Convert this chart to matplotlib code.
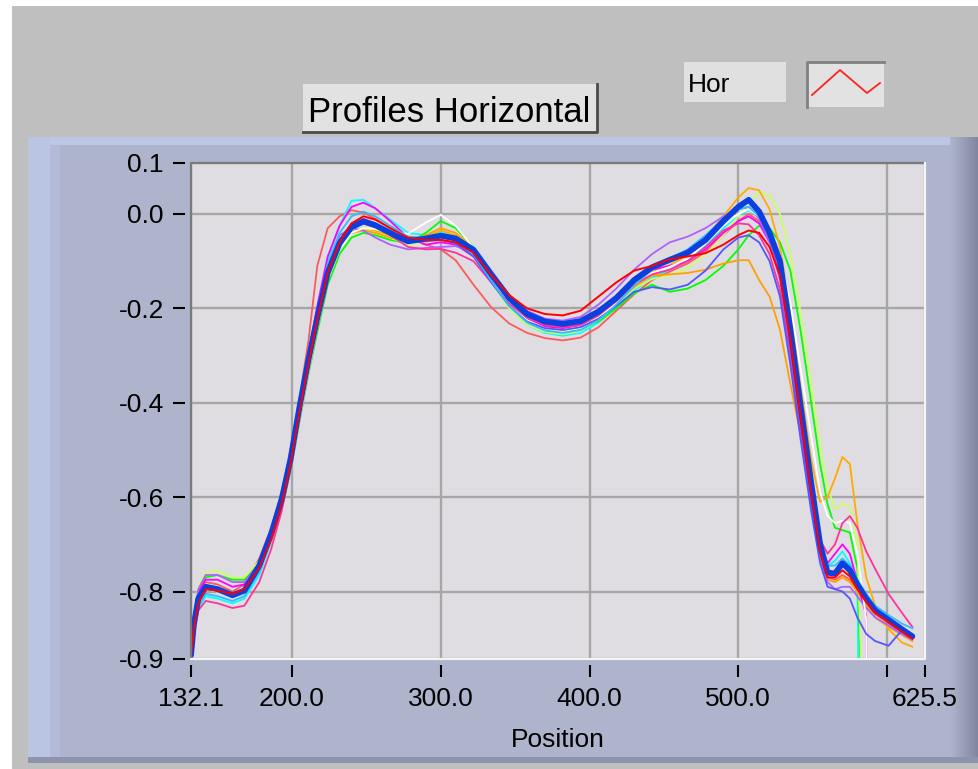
import numpy as np
import matplotlib
matplotlib.use("Agg")
import matplotlib.pyplot as plt
from matplotlib.patches import Rectangle
from matplotlib.lines import Line2D

nan = float("nan")

position = [132.1, 134, 137, 142, 150, 160, 168, 178, 186, 193, 199, 205, 211, 217, 224,
            232, 240, 248, 256, 266, 278, 290, 300, 310, 322, 334, 346, 358, 370, 382,
            394, 406, 418, 430, 442, 454, 466, 478, 490, 500, 507, 514, 521, 528, 535,
            542, 549, 555, 560, 565, 570, 575, 580, 586, 592, 601, 610, 617]

mean_blue = [-0.935, -0.870, -0.815, -0.790, -0.795, -0.808, -0.798, -0.745,
             -0.678, -0.605, -0.520, -0.410, -0.310, -0.220, -0.125,
             -0.062, -0.028, -0.016, -0.024, -0.040,
             -0.058, -0.052, -0.046, -0.052, -0.076,
             -0.128, -0.178, -0.212, -0.228, -0.233, -0.227, -0.207, -0.178, -0.140,
             -0.113, -0.097, -0.082, -0.055, -0.015,
             0.015, 0.030, 0.005, -0.040, -0.100,
             -0.245, -0.410, -0.570, -0.700, -0.760,
             -0.762, -0.740, -0.755, -0.785, -0.815, -0.840, -0.860, -0.880, -0.895]

p_red = [-0.940, -0.880, -0.825, -0.795, -0.798, -0.805, -0.795, -0.750,
         -0.690, -0.615, -0.530, -0.420, -0.320, -0.225, -0.125,
         -0.060, -0.020, -0.005, -0.012, -0.030,
         -0.050, -0.055, -0.055, -0.060, -0.082,
         -0.130, -0.172, -0.200, -0.212, -0.215, -0.205, -0.175, -0.145, -0.120,
         -0.110, -0.096, -0.090, -0.083, -0.065,
         -0.045, -0.035, -0.040, -0.070, -0.130,
         -0.265, -0.430, -0.590, -0.715, -0.770,
         -0.770, -0.755, -0.768, -0.795, -0.822, -0.845, -0.865, -0.885, -0.900]

p_salmon = [-0.930, -0.860, -0.800, -0.780, -0.785, -0.800, -0.785, -0.730,
            -0.665, -0.590, -0.500, -0.390, -0.270, -0.110, -0.030,
            -0.005, 0.008, 0.003, -0.010, -0.030,
            -0.052, -0.065, -0.075, -0.098, -0.150,
            -0.198, -0.232, -0.252, -0.263, -0.268, -0.262, -0.240, -0.205, -0.170,
            -0.140, -0.122, -0.105, -0.080, -0.045,
            -0.015, 0.000, -0.015, -0.055, -0.120,
            -0.260, -0.430, -0.590, -0.715, -0.770,
            -0.775, -0.765, -0.775, -0.800, -0.826, -0.848, -0.868, -0.886, -0.900]

p_cyan = [-0.940, -0.890, -0.835, -0.810, -0.815, -0.825, -0.815, -0.765,
          -0.695, -0.615, -0.525, -0.410, -0.300, -0.200, -0.095,
          -0.025, 0.028, 0.030, 0.012, -0.012,
          -0.040, -0.045, -0.038, -0.050, -0.082,
          -0.142, -0.198, -0.235, -0.252, -0.258, -0.252, -0.230, -0.198, -0.162,
          -0.135, -0.118, -0.098, -0.068, -0.030,
          -0.002, 0.008, -0.005, -0.045, -0.105,
          -0.240, -0.400, -0.560, -0.685, -0.745,
          -0.735, -0.715, -0.740, -0.770, -2.500, nan, nan, nan, nan]

p_green = [-0.930, -0.860, -0.800, -0.770, -0.765, -0.775, -0.775, -0.740,
           -0.690, -0.625, -0.545, -0.440, -0.340, -0.250, -0.150,
           -0.085, -0.050, -0.040, -0.045, -0.055,
           -0.062, -0.040, -0.015, -0.030, -0.070,
           -0.128, -0.185, -0.222, -0.240, -0.248, -0.245, -0.228, -0.200, -0.168,
           -0.150, -0.165, -0.158, -0.140, -0.110,
           -0.075, -0.045, -0.025, -0.030, -0.060,
           -0.120, -0.250, -0.400, -0.530, -0.615,
           -0.665, -0.670, -0.675, -0.750, -1.320, nan, nan, nan, nan]

p_lime = [-0.930, -0.855, -0.790, -0.760, -0.755, -0.770, -0.770, -0.735,
          -0.680, -0.610, -0.525, -0.420, -0.320, -0.230, -0.135,
          -0.070, -0.040, -0.032, -0.038, -0.050,
          -0.065, -0.060, -0.050, -0.060, -0.090,
          -0.145, -0.200, -0.235, -0.250, -0.255, -0.248, -0.225, -0.192, -0.158,
          -0.138, -0.130, -0.115, -0.085, -0.045,
          -0.005, 0.025, 0.045, 0.040, 0.000,
          -0.085, -0.210, -0.360, -0.490, -0.580,
          -0.625, -0.615, -0.620, -0.700, -1.280, nan, nan, nan, nan]

p_orange_high = [-0.940, -0.875, -0.820, -0.795, -0.800, -0.810, -0.800, -0.752,
                 -0.685, -0.612, -0.528, -0.420, -0.320, -0.230, -0.132,
                 -0.070, -0.038, -0.030, -0.035, -0.045,
                 -0.060, -0.050, -0.035, -0.045, -0.075,
                 -0.130, -0.180, -0.215, -0.232, -0.238, -0.232, -0.212, -0.182, -0.145,
                 -0.122, -0.108, -0.088, -0.050, -0.005,
                 0.035, 0.055, 0.050, 0.010, -0.070,
                 -0.200, -0.370, -0.520, -0.610, -0.600,
                 -0.560, -0.515, -0.530, -0.655, -0.770, -0.830, -0.880, -0.908, -0.917]

p_orange_low = [-0.935, -0.870, -0.815, -0.790, -0.797, -0.810, -0.800, -0.750,
                -0.685, -0.615, -0.535, -0.430, -0.330, -0.240, -0.140,
                -0.075, -0.040, -0.035, -0.040, -0.050,
                -0.058, -0.045, -0.030, -0.040, -0.072,
                -0.130, -0.182, -0.218, -0.235, -0.240, -0.235, -0.215, -0.188, -0.155,
                -0.130, -0.128, -0.125, -0.118, -0.105,
                -0.098, -0.098, -0.140, -0.175, -0.245,
                -0.360, -0.470, -0.610, -0.720, -0.775,
                -0.780, -0.770, -0.780, -0.800, -0.830, -0.855, -0.875, -0.892, -0.905]

p_magenta = [-0.935, -0.860, -0.800, -0.775, -0.775, -0.790, -0.785, -0.740,
             -0.675, -0.600, -0.515, -0.400, -0.295, -0.195, -0.090,
             -0.025, 0.015, 0.024, 0.012, -0.015,
             -0.050, -0.065, -0.060, -0.065, -0.090,
             -0.140, -0.190, -0.222, -0.238, -0.242, -0.235, -0.212, -0.180, -0.142,
             -0.118, -0.110, -0.100, -0.075, -0.040,
             -0.015, -0.005, -0.020, -0.060, -0.130,
             -0.270, -0.430, -0.590, -0.705, -0.740,
             -0.720, -0.700, -0.720, -0.780, -0.850, -8.000, nan, nan, nan]

p_purple = [-0.930, -0.855, -0.795, -0.765, -0.765, -0.780, -0.780, -0.740,
            -0.680, -0.610, -0.525, -0.415, -0.310, -0.215, -0.110,
            -0.045, -0.030, -0.035, -0.050, -0.065,
            -0.075, -0.072, -0.070, -0.068, -0.082,
            -0.125, -0.172, -0.205, -0.222, -0.226, -0.218, -0.192, -0.158, -0.118,
            -0.085, -0.060, -0.048, -0.030, -0.005,
            0.010, 0.015, -0.010, -0.060, -0.140,
            -0.290, -0.460, -0.620, -0.730, -0.780,
            -0.795, -0.790, -0.790, -0.810, -0.835, -0.855, -0.872, -0.890, -0.902]

p_white = [-0.940, -0.875, -0.820, -0.795, -0.800, -0.812, -0.802, -0.755,
           -0.690, -0.620, -0.540, -0.435, -0.335, -0.240, -0.140,
           -0.075, -0.040, -0.030, -0.032, -0.040,
           -0.042, -0.018, -0.002, -0.025, -0.072,
           -0.135, -0.190, -0.225, -0.242, -0.248, -0.242, -0.220, -0.188, -0.150,
           -0.125, -0.112, -0.095, -0.062, -0.025,
           0.000, 0.010, -0.005, -0.035, -0.085,
           -0.190, -0.330, -0.470, -0.590, -0.640,
           -0.655, -0.650, -0.655, -0.720, -0.860, -8.000, nan, nan, nan]

p_hotpink = [-0.940, -0.890, -0.840, -0.820, -0.825, -0.835, -0.830, -0.780,
             -0.710, -0.630, -0.540, -0.425, -0.320, -0.220, -0.120,
             -0.055, -0.020, -0.010, -0.020, -0.045,
             -0.070, -0.075, -0.074, -0.082, -0.100,
             -0.145, -0.190, -0.220, -0.235, -0.240, -0.235, -0.215, -0.185, -0.150,
             -0.128, -0.118, -0.100, -0.070, -0.035,
             -0.020, -0.022, -0.045, -0.085, -0.160,
             -0.300, -0.460, -0.600, -0.690, -0.720,
             -0.700, -0.655, -0.640, -0.665, -0.715, -0.752, -0.805, -0.845, -0.875]

p_violet = [-0.935, -0.870, -0.815, -0.790, -0.795, -0.805, -0.795, -0.745,
            -0.680, -0.607, -0.522, -0.410, -0.308, -0.215, -0.118,
            -0.055, -0.022, -0.012, -0.020, -0.038,
            -0.058, -0.058, -0.055, -0.062, -0.090,
            -0.145, -0.195, -0.228, -0.242, -0.246, -0.240, -0.222, -0.195, -0.165,
            -0.155, -0.160, -0.150, -0.120, -0.075,
            -0.050, -0.045, -0.060, -0.100, -0.175,
            -0.320, -0.480, -0.630, -0.740, -0.790,
            -0.795, -0.800, -0.815, -0.855, -0.890, -0.905, -0.915, -0.882, -0.893]

p_lightblue = [-0.940, -0.880, -0.830, -0.805, -0.810, -0.820, -0.810, -0.758,
               -0.688, -0.610, -0.520, -0.405, -0.300, -0.205, -0.105,
               -0.040, -0.005, 0.005, -0.005, -0.025,
               -0.048, -0.050, -0.045, -0.055, -0.085,
               -0.142, -0.195, -0.230, -0.247, -0.252, -0.246, -0.225, -0.192, -0.152,
               -0.118, -0.095, -0.075, -0.045, -0.010,
               0.010, 0.015, -0.005, -0.050, -0.115,
               -0.260, -0.420, -0.580, -0.700, -0.745,
               -0.745, -0.730, -0.745, -0.775, -0.805, -0.830, -0.850, -0.868, -0.878]

thin_profiles = [
    (p_salmon, "#FF5A5A"), (p_cyan, "#00FFFF"), (p_green, "#00FF00"),
    (p_lime, "#CCFF66"), (p_orange_low, "#FFA000"), (p_orange_high, "#FFAA00"),
    (p_magenta, "#FF00FF"), (p_purple, "#B060FF"), (p_white, "#FFFFFF"),
    (p_hotpink, "#FF3399"), (p_violet, "#5555FF"), (p_lightblue, "#33BBFF"),
]

x_ticks = [132.1, 200, 300, 400, 500, 600, 625.5]
x_tick_labels = ["132.1", "200.0", "300.0", "400.0", "500.0", "", "625.5"]
y_ticks = [0.108, 0.0, -0.2, -0.4, -0.6, -0.8, -0.943]
y_tick_labels = ["0.1", "0.0", "-0.2", "-0.4", "-0.6", "-0.8", "-0.9"]

W, H = 979, 769
FONT = "Liberation Sans"
fig = plt.figure(figsize=(W / 100, H / 100), dpi=100, facecolor="white")

# ---- background / panel (pixel coordinates) ----
bg = fig.add_axes([0, 0, 1, 1], zorder=0)
bg.set_xlim(0, W)
bg.set_ylim(H, 0)
bg.axis("off")
bg.add_patch(Rectangle((12, 6), W - 12, H - 6, facecolor="#BFBFBF", edgecolor="none"))
bg.add_patch(Rectangle((28, 137), W - 28, 626, facecolor="#AEB4CC", edgecolor="none"))
bg.add_patch(Rectangle((28, 137), W - 28, 8, facecolor="#BCC7E6", edgecolor="none"))
bg.add_patch(Rectangle((28, 137), 22, 626, facecolor="#BAC4E3", edgecolor="none"))
bg.add_patch(Rectangle((50, 145), 10, 618, facecolor="#B2BAD7", edgecolor="none"))
grad = np.linspace(0, 1, 30)[None, :]
from matplotlib.colors import LinearSegmentedColormap
cm = LinearSegmentedColormap.from_list("edge", ["#AEB4CC", "#7F869E"])
bg.imshow(grad, cmap=cm, extent=(950, W, 763, 137), aspect="auto", zorder=1)
bg.add_patch(Rectangle((28, 757), W - 28, 6, facecolor="#8D93AB", edgecolor="none", zorder=2))
bg.set_xlim(0, W)
bg.set_ylim(H, 0)

# title box
bg.add_patch(Rectangle((303, 84), 294, 48, facecolor="#E2E2E2", edgecolor="none", zorder=3))
bg.add_line(Line2D([303, 597, 597], [132, 132, 84], color="#4A4A4A", lw=2, zorder=4))
bg.text(449, 122, "Profiles Horizontal", ha="center", va="baseline",
        fontsize=25, family=FONT, color="black", zorder=5)

# "Hor" box
bg.add_patch(Rectangle((684, 62), 102, 40, facecolor="#E0E0E0", edgecolor="none", zorder=3))
bg.text(688, 92, "Hor", ha="left", va="baseline", fontsize=19, family=FONT, color="black", zorder=5)

# plot-style swatch
bg.add_patch(Rectangle((807, 62), 77, 45, facecolor="#E2E2E2", edgecolor="none", zorder=3))
bg.add_line(Line2D([807, 807, 884], [107, 62, 62], color="#808080", lw=2, zorder=4))
bg.add_line(Line2D([812, 840, 867, 880], [95, 70, 93, 83], color="#FF2020", lw=1.3, zorder=5))

# ---- plot area ----
ax = fig.add_axes([191 / W, (H - 659) / H, (925 - 191) / W, (659 - 163) / H], zorder=2)
ax.set_facecolor("#DFDDE1")
ax.set_xlim(132.1, 625.5)
ax.set_ylim(-0.943, 0.108)

for vals, col in thin_profiles:
    ax.plot(position, vals, color=col, lw=1.3, zorder=3)
ax.plot(position, mean_blue, color="#0A3FE0", lw=4.2, zorder=4,
        solid_joinstyle="round", solid_capstyle="round")
ax.plot(position, p_red, color="#FF0000", lw=1.4, zorder=5)

ax.set_xticks(x_ticks)
ax.set_xticklabels(x_tick_labels)
ax.set_yticks(y_ticks)
ax.set_yticklabels(y_tick_labels)
ax.grid(True, color="#A6A6A6", lw=1.7)
ax.set_axisbelow(True)

for s in ax.spines.values():
    s.set_visible(False)
ax.spines["left"].set_position(("outward", 4))
ax.spines["bottom"].set_position(("outward", 4))
ax.tick_params(axis="both", direction="out", length=8.5, width=1.5, color="black",
               labelsize=19, labelcolor="black")
ax.tick_params(axis="y", pad=7)
ax.tick_params(axis="x", pad=8)
for lab in ax.get_xticklabels() + ax.get_yticklabels():
    lab.set_family(FONT)

# inset border: dark left/top, white right/bottom
ax.add_line(Line2D([0, 0, 1], [0, 1, 1], transform=ax.transAxes, color="#7A7A7A",
                   lw=1.6, clip_on=False, zorder=10))
ax.add_line(Line2D([0, 1, 1], [0, 0, 1], transform=ax.transAxes, color="#F4F4F4",
                   lw=1.6, clip_on=False, zorder=10))

ax.set_xlabel("Position", fontsize=19, family=FONT, color="black", labelpad=12)

fig.savefig("out.png", dpi=100, facecolor=fig.get_facecolor())
